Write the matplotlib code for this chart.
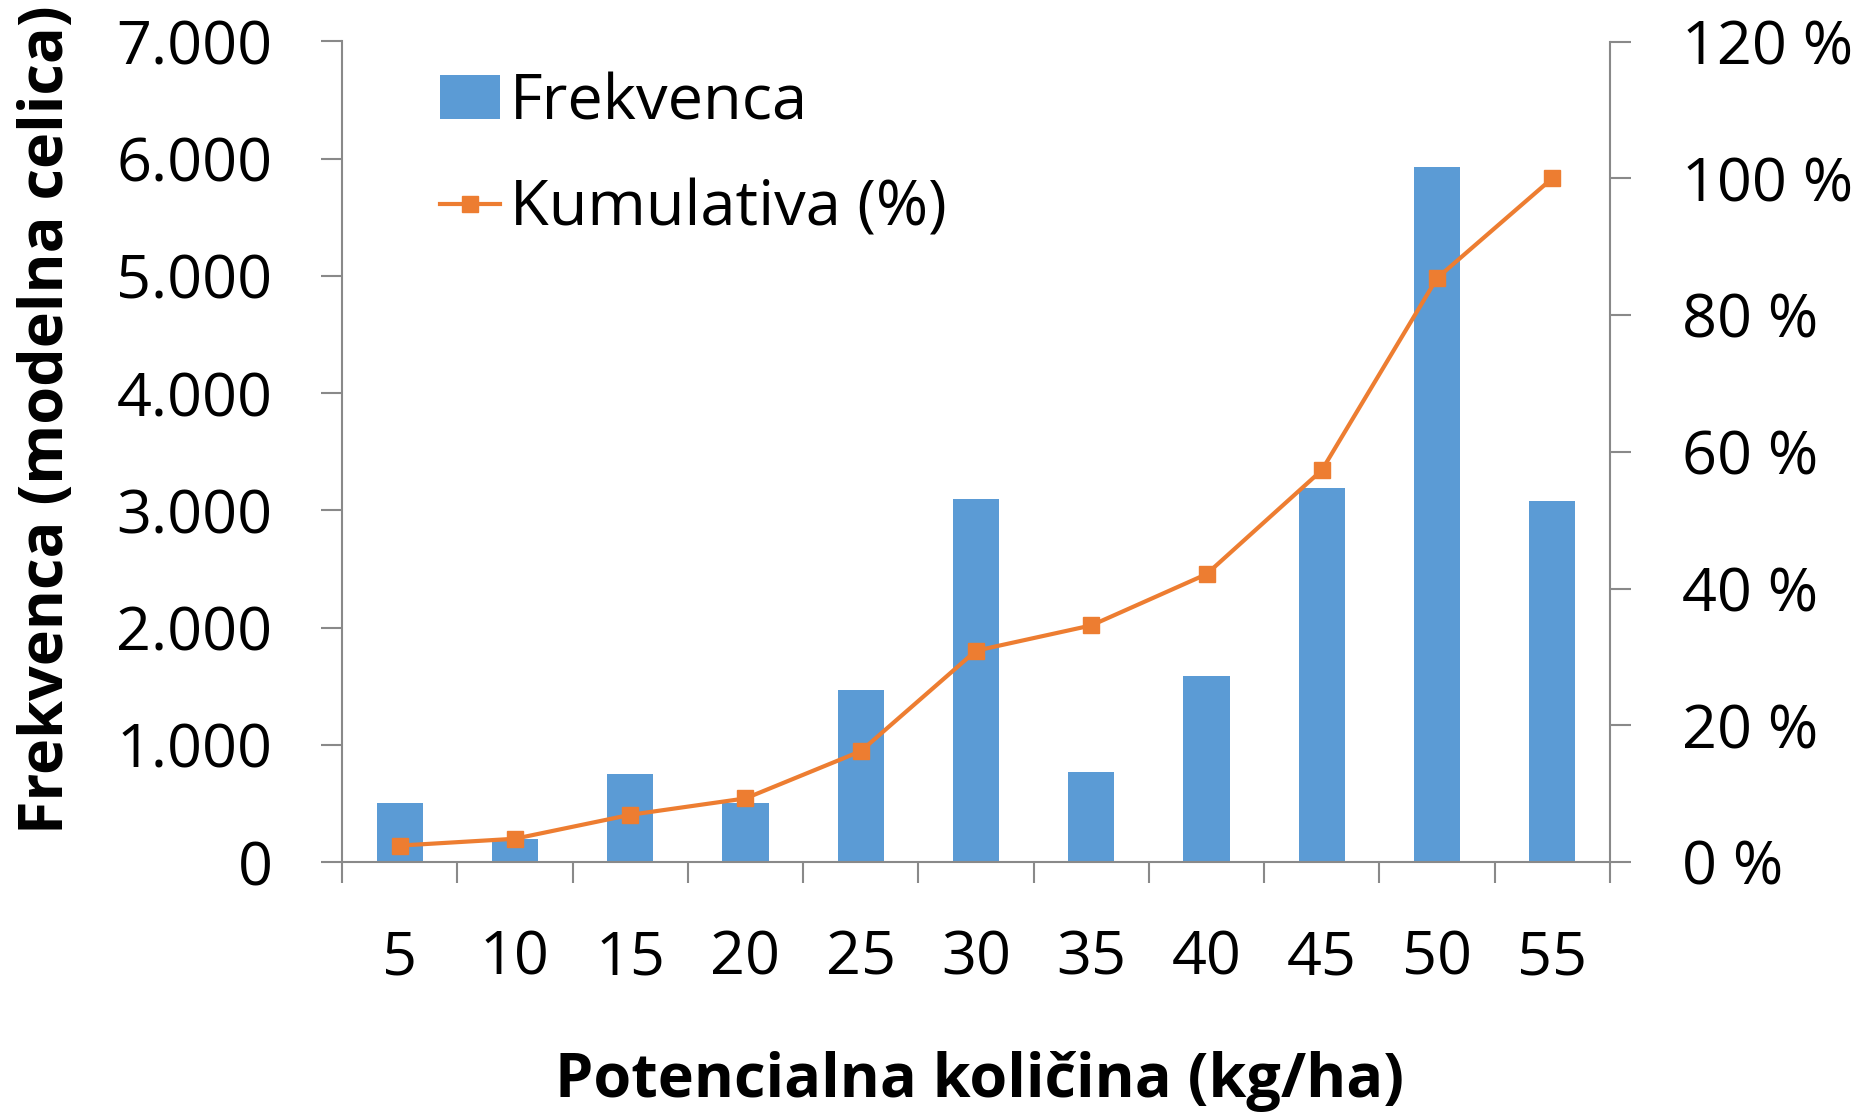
#!/usr/bin/env python3

import numpy as np
import matplotlib.pyplot as plt
from matplotlib.ticker import FixedLocator, FuncFormatter, NullFormatter

# =========================
# DATA
# =========================
kolicina = ["5", "10", "15", "20", "25", "30", "35", "40", "45", "50", "55"]
frekvenca = [500, 200, 750, 500, 1470, 3100, 770, 1590, 3190, 5930, 3080]
kumulativa = [2.4, 3.4, 6.9, 9.3, 16.2, 30.9, 34.6, 42.1, 57.3, 85.4, 100.0]

BAR_COLOR = "#5B9BD5"
LINE_COLOR = "#ED7D31"
AXIS_COLOR = "#898989"
FONT = "Open Sans"
FS = 44

plt.rcParams["font.family"] = [FONT, "DejaVu Sans"]


def thousands(v, _pos):
    return f"{v:,.0f}".replace(",", ".")


def percent(v, _pos):
    return f"{v:.0f} %"


def main():
    fig = plt.figure(figsize=(18.63, 11.13), dpi=100)
    ax = fig.add_axes([342 / 1863, 1 - 862 / 1113, 1268 / 1863, 820.5 / 1113])
    ax2 = ax.twinx()

    x = np.arange(len(kolicina))
    bars = ax.bar(x, frekvenca, width=0.4, color=BAR_COLOR, label="Frekvenca", zorder=2)
    (line,) = ax2.plot(
        x, kumulativa, color=LINE_COLOR, lw=3, marker="s", markersize=12,
        label="Kumulativa (%)", zorder=3,
    )

    ax.set_xlim(-0.5, len(kolicina) - 0.5)
    ax.set_ylim(0, 7000)
    ax2.set_ylim(0, 120)
    ax.set_yticks(np.arange(0, 7001, 1000))
    ax2.set_yticks(np.arange(0, 121, 20))
    ax.yaxis.set_major_formatter(FuncFormatter(thousands))
    ax2.yaxis.set_major_formatter(FuncFormatter(percent))

    # category boundaries get the tick marks, centres get the labels
    ax.xaxis.set_major_locator(FixedLocator(np.arange(-0.5, len(kolicina), 1.0)))
    ax.xaxis.set_major_formatter(NullFormatter())
    ax.xaxis.set_minor_locator(FixedLocator(x))
    ax.xaxis.set_minor_formatter(FuncFormatter(lambda v, p: kolicina[int(round(v))]))

    for a in (ax, ax2):
        a.spines["top"].set_visible(False)
        for s in ("left", "right", "bottom"):
            a.spines[s].set_color(AXIS_COLOR)
            a.spines[s].set_linewidth(1.5)
    ax.spines["right"].set_visible(False)
    ax2.spines["left"].set_visible(False)
    ax2.spines["bottom"].set_visible(False)

    ax.tick_params(axis="y", which="major", length=15, width=1.5, color=AXIS_COLOR,
                   pad=35, labelsize=FS)
    ax2.tick_params(axis="y", which="major", length=15, width=1.5, color=AXIS_COLOR,
                    pad=37, labelsize=FS)
    ax.tick_params(axis="x", which="major", length=15, width=1.5, color=AXIS_COLOR)
    ax.tick_params(axis="x", which="minor", length=0, pad=48, labelsize=FS)

    fig.text(47.5 / 1863, 1 - 420 / 1113, "Frekvenca (modelna celica)", rotation=90,
             ha="center", va="center", fontsize=FS, fontweight="bold")
    fig.text(980 / 1863, 1 - 1081 / 1113, "Potencialna količina (kg/ha)",
             ha="center", va="center", fontsize=FS, fontweight="bold")

    ax2.legend(
        [bars, line], ["Frekvenca", "Kumulativa (%)"],
        loc="upper left", bbox_to_anchor=(408 / 1863, 1 - 40 / 1113),
        bbox_transform=fig.transFigure, frameon=False, fontsize=45.5,
        handlelength=0.95, handletextpad=0.16, labelspacing=0.7, borderpad=0,
    )

    fig.savefig("out.png", dpi=100, facecolor="white")


if __name__ == "__main__":
    main()
